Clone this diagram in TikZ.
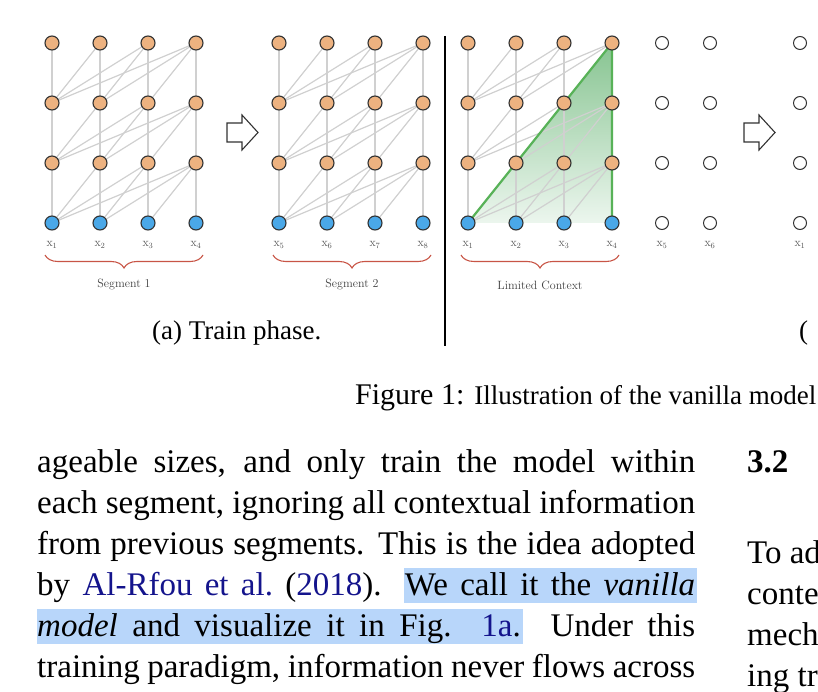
\documentclass[tikz,border=0pt]{standalone}
\usepackage{fontspec}
\newfontfamily\tms{Liberation Serif}
\usetikzlibrary{decorations.pathreplacing,backgrounds}
\definecolor{nodeorange}{RGB}{237,178,128}
\definecolor{nodeblue}{RGB}{74,168,232}
\definecolor{nodeline}{RGB}{50,50,50}
\definecolor{edgegray}{RGB}{208,208,208}
\definecolor{bracered}{RGB}{200,85,70}
\definecolor{lblgray}{RGB}{85,85,85}
\definecolor{ctxgreen}{RGB}{88,178,88}
\definecolor{shadetop}{RGB}{135,196,145}
\definecolor{shadebot}{RGB}{236,246,238}
\definecolor{linkblue}{RGB}{20,20,140}
\definecolor{hlblue}{RGB}{184,214,250}
\begin{document}
\begin{tikzpicture}[x=1pt,y=-1pt,
  hidden/.style={circle,inner sep=0pt,minimum size=14pt,draw=nodeline,line width=1.1pt,fill=nodeorange},
  token/.style={hidden,fill=nodeblue},
  emptynode/.style={circle,inner sep=0pt,minimum size=13pt,draw=nodeline,line width=1pt,fill=white},
  attn/.style={draw=edgegray,line width=1.2pt},
  ctxline/.style={draw=ctxgreen,line width=2.2pt,line join=round},
  lbl/.style={font=\fontsize{12}{14}\selectfont,text=lblgray,inner sep=0pt},
  brc/.style={draw=bracered,line width=1.1pt,decorate,decoration={brace,amplitude=13pt}},
  blockarrow/.style={draw=nodeline,line width=1.1pt,fill=white,line join=miter},
  body/.style={font=\tms\fontsize{33}{40}\selectfont,anchor=base west,inner sep=0pt},
  subcap/.style={font=\tms\fontsize{27}{32}\selectfont,anchor=base west,inner sep=0pt}]
\useasboundingbox (0,0) rectangle (818,692);

% ---- grids of nodes ----
\foreach \g/\gx/\off in {1/52/0,2/279/4,3/468/0}{
  \foreach \c in {1,2,3,4}{
    \pgfmathsetmacro{\px}{\gx+48*(\c-1)}
    \pgfmathtruncatemacro{\n}{\c+\off}
    \node[token]  (g\g-0-\c) at (\px,223) {};
    \node[hidden] (g\g-1-\c) at (\px,163) {};
    \node[hidden] (g\g-2-\c) at (\px,103) {};
    \node[hidden] (g\g-3-\c) at (\px,43) {};
    \node[lbl] (l\g-\c) at (\px,245) {$\mathrm{x}_{\n}$};
  }
}

% ---- attention edges and limited context ----
\begin{scope}[on background layer]
  \fill[top color=shadetop,bottom color=shadebot] (g3-0-1.center) -- (g3-3-4.center) -- (g3-0-4.center) -- cycle;
  \foreach \g in {1,2,3}{
    \foreach \r/\rb in {1/0,2/1,3/2}{
      \foreach \c in {1,2,3,4}{
        \foreach \i in {1,...,\c}{
          \draw[attn] (g\g-\r-\c.center) -- (g\g-\rb-\i.center);
        }
      }
    }
  }
  \draw[ctxline] (g3-0-1.center) -- (g3-3-4.center) -- (g3-0-4.center);
\end{scope}

% ---- empty (evaluation) nodes ----
\foreach \k/\ex/\n in {1/662/5,2/710/6,3/800/1}{
  \node[emptynode] (e\k-0) at (\ex,223) {};
  \node[emptynode] (e\k-1) at (\ex,163) {};
  \node[emptynode] (e\k-2) at (\ex,103) {};
  \node[emptynode] (e\k-3) at (\ex,43) {};
  \node[lbl] (el\k) at (\ex,245) {$\mathrm{x}_{\n}$};
}

% ---- braces ----
\coordinate (b1s) at (203,255); \coordinate (b1e) at (45,255);
\coordinate (b2s) at (431,255); \coordinate (b2e) at (273,255);
\coordinate (b3s) at (619,255); \coordinate (b3e) at (461,255);
\draw[brc] (b1s) -- (b1e);
\draw[brc] (b2s) -- (b2e);
\draw[brc] (b3s) -- (b3e);
\node[lbl,text=black!75] (seg1) at (124,285) {Segment 1};
\node[lbl,text=black!75] (seg2) at (352,285) {Segment 2};
\node[lbl,text=black!75] (ctx) at (540,285) {Limited Context};

% ---- block arrows ----
\draw[blockarrow] (227,123) -- (242,123) -- (242,115) -- (258,132.5) -- (242,150) -- (242,142) -- (227,142) -- cycle;
\draw[blockarrow,xshift=517pt] (227,123) -- (242,123) -- (242,115) -- (258,132.5) -- (242,150) -- (242,142) -- (227,142) -- cycle;

% ---- separator ----
\draw[line width=1.1pt] (445,36) -- (445,346);

% ---- captions ----
\node[subcap] (capa) at (152,339) {(a) Train phase.};
\node[subcap] (capb) at (799,339) {(};
\node[anchor=base west,inner sep=0pt] (fig) at (355,404)
  {\tms\fontsize{30}{36}\selectfont Figure 1: \fontsize{27}{32}\selectfont Illustration of the vanilla model};

% ---- body text ----
\fill[hlblue] (404,568) rectangle (697,603);
\fill[hlblue] (37,609) rectangle (523,644);
\node[body] (t1) at (37,472) {\makebox[658pt][s]{ageable sizes, and only train the model within}};
\node[body] (t2) at (37,513) {\makebox[658pt][s]{each segment, ignoring all contextual information}};
\node[body] (t3) at (37,554) {\makebox[658pt][s]{from previous segments. This is the idea adopted}};
\node[body] (t4) at (37,595) {\makebox[658pt][s]{by \textcolor{linkblue}{Al-Rfou et al.}\ (\textcolor{linkblue}{2018}). We call it the \textit{vanilla}}};
\node[body] (t5) at (37,636) {\makebox[658pt][s]{\textit{model} and visualize it in Fig. \textcolor{linkblue}{1a}. Under this}};
\node[body] (t6) at (37,677) {\makebox[658pt][s]{training paradigm, information never flows across}};

\node[body,font=\tms\bfseries\fontsize{33}{40}\selectfont] (sec) at (747,472) {3.2};
\node[body] (r1) at (747,563) {To ad};
\node[body] (r2) at (747,604) {conte};
\node[body] (r3) at (747,645) {mech};
\node[body] (r4) at (747,686) {ing tr};
\end{tikzpicture}
\end{document}
